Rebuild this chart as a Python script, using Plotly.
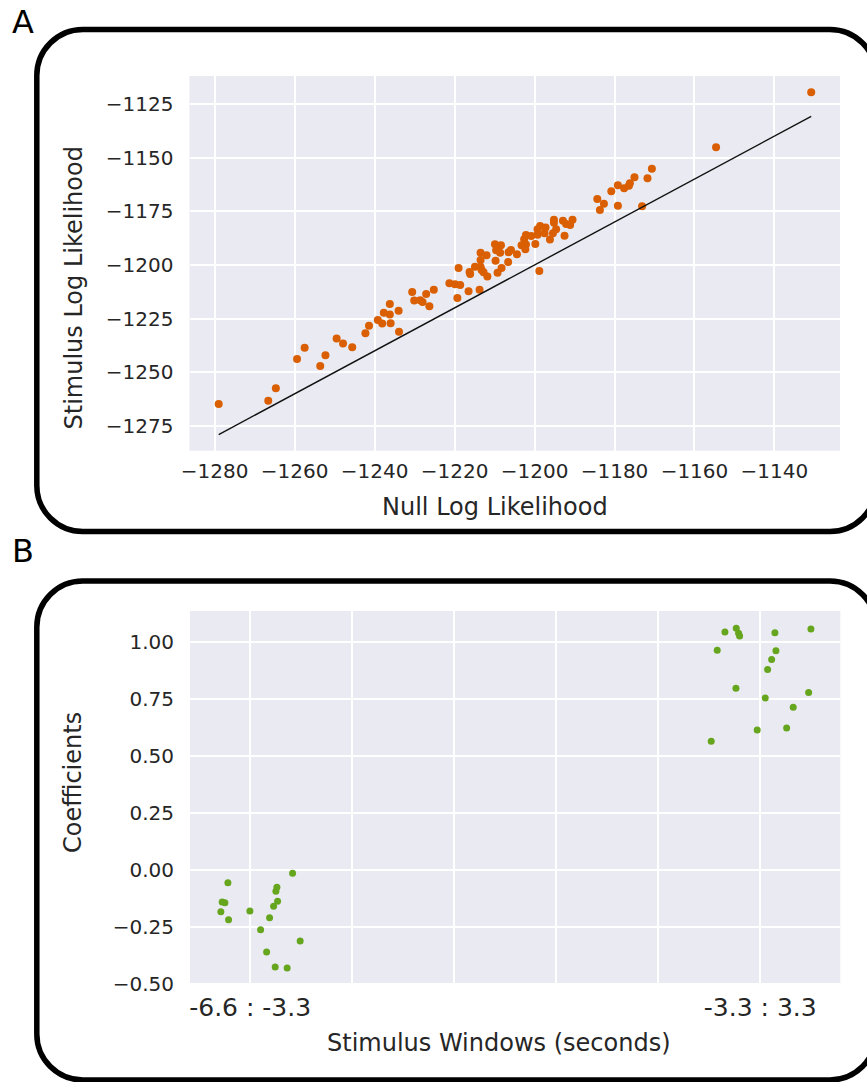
import plotly.graph_objects as go

W, H = 867, 1082

# ---------------- Panel A data ----------------
null_ll = [-1279.0, -1266.6, -1264.7, -1259.4, -1257.5, -1253.6, -1252.3, -1249.5, -1247.9, -1245.6,
           -1242.3, -1241.4, -1239.2, -1238.1, -1237.7, -1236.2, -1236.2, -1236.0, -1234.0, -1233.9,
           -1230.6, -1230.1, -1228.6, -1228.0, -1227.1, -1225.2, -1226.3, -1221.3, -1219.9, -1218.6,
           -1219.3, -1216.5, -1213.75, -1219.0, -1216.25, -1216.1, -1214.9, -1213.5, -1213.25, -1212.75,
           -1211.8, -1213.5, -1213.5, -1212.0, -1209.9, -1208.4, -1209.6, -1208.6, -1209.75, -1208.25,
           -1209.25, -1206.6, -1206.5, -1205.9, -1204.4, -1203.25, -1202.15, -1202.3, -1202.6, -1202.15,
           -1200.8, -1199.8, -1199.25, -1199.25, -1198.6, -1197.5, -1197.25, -1196.15, -1195.4, -1195.15,
           -1195.15, -1194.6, -1192.9, -1192.5, -1192.1, -1191.1, -1190.5, -1198.8, -1184.3, -1183.65,
           -1182.65, -1180.8, -1179.15, -1179.15, -1177.6, -1176.4, -1176.15, -1175.0, -1173.1, -1171.75,
           -1170.65, -1154.6, -1130.8]
stim_ll = [-1264.7, -1263.2, -1257.4, -1243.8, -1238.6, -1247.0, -1242.0, -1234.3, -1236.6, -1238.3,
           -1231.8, -1228.3, -1225.6, -1227.3, -1222.3, -1223.1, -1218.2, -1227.1, -1221.3, -1231.1,
           -1212.6, -1216.6, -1216.4, -1217.2, -1213.5, -1211.5, -1219.2, -1208.5, -1209.0, -1209.3,
           -1215.4, -1212.2, -1211.5, -1201.4, -1203.3, -1204.2, -1200.8, -1200.8, -1202.3, -1203.4,
           -1205.4, -1197.7, -1194.3, -1195.5, -1190.4, -1190.8, -1193.2, -1194.3, -1198.0, -1201.4,
           -1203.6, -1198.6, -1194.1, -1193.0, -1195.0, -1190.8, -1190.5, -1192.7, -1188.0, -1186.0,
           -1186.5, -1190.2, -1183.4, -1185.9, -1181.8, -1185.2, -1182.6, -1188.2, -1185.2, -1178.9,
           -1180.4, -1183.4, -1179.4, -1186.4, -1180.9, -1181.4, -1178.9, -1202.8, -1169.3, -1174.4,
           -1171.5, -1165.7, -1162.9, -1172.4, -1164.3, -1163.1, -1162.0, -1159.2, -1172.7, -1159.6,
           -1155.2, -1145.2, -1119.6]

# ---------------- Panel B data ----------------
window_labels = ["-6.6 : -3.3", "-3.3 : 3.3"]
win1_jitter = [-0.0437, 0.0831, -0.0549, -0.0496, -0.0575, -0.0424, -0.0006, 0.0524, 0.0504,
               0.0537, 0.0459, 0.038, 0.0204, 0.098, 0.0322, 0.049, 0.0725]
win1_coef = [-0.056, -0.0145, -0.1405, -0.1436, -0.183, -0.218, -0.180, -0.076, -0.0935,
             -0.1375, -0.159, -0.2095, -0.262, -0.312, -0.360, -0.426, -0.430]
win2_jitter = [-0.0692, -0.047, -0.0424, -0.0404, 0.0288, 0.0994, -0.0843, 0.0308, 0.0224,
               0.0145, -0.0476, 0.0949, 0.0098, 0.0647, -0.0059, 0.0518, -0.0961]
win2_coef = [1.045, 1.0615, 1.0395, 1.0277, 1.042, 1.058, 0.965, 0.963, 0.925,
             0.881, 0.798, 0.780, 0.755, 0.7145, 0.615, 0.6236, 0.565]

ORANGE = "#d95f02"
GREEN = "#66a61e"
BG = "#eaeaf2"
TXT = "#262626"
FONT = "DejaVu Sans"

fig = go.Figure()

fig.add_trace(go.Scatter(x=null_ll, y=stim_ll, mode="markers",
                         marker=dict(color=ORANGE, size=8, line=dict(width=0)),
                         xaxis="x", yaxis="y", showlegend=False))
lo, hi = min(null_ll), max(null_ll)
fig.add_trace(go.Scatter(x=[lo, hi], y=[lo, hi], mode="lines",
                         line=dict(color="#111111", width=1.4),
                         xaxis="x", yaxis="y", showlegend=False))

fig.add_trace(go.Scatter(x=[0 + j for j in win1_jitter], y=win1_coef, mode="markers",
                         marker=dict(color=GREEN, size=7, line=dict(width=0)),
                         xaxis="x2", yaxis="y2", showlegend=False))
fig.add_trace(go.Scatter(x=[1 + j for j in win2_jitter], y=win2_coef, mode="markers",
                         marker=dict(color=GREEN, size=7, line=dict(width=0)),
                         xaxis="x2", yaxis="y2", showlegend=False))


def px_x(p):
    return p / W


def px_y(p):
    return 1 - p / H


common = dict(showgrid=True, gridcolor="white", gridwidth=1.5, zeroline=False,
              showline=False, ticks="outside", tickcolor="rgba(0,0,0,0)", automargin=False,
              tickfont=dict(family=FONT, size=20, color=TXT))

fig.update_layout(
    width=W, height=H, autosize=False, showlegend=False,
    margin=dict(l=0, r=0, t=0, b=0, pad=0, autoexpand=False),
    paper_bgcolor="white", plot_bgcolor=BG,
    font=dict(family=FONT, color=TXT),
    xaxis=dict(domain=[px_x(189.5), px_x(840)], range=[-1286.3, -1123.6],
               tick0=-1280, dtick=20, ticklen=2, anchor="y", **common),
    yaxis=dict(domain=[px_y(450.7), px_y(76)], range=[-1286.5, -1112.0],
               tick0=-1275, dtick=25, ticklen=11, anchor="x", **common),
    xaxis2=dict(domain=[px_x(190), px_x(840.3)], range=[-0.118, 1.157],
                tickvals=[0, 0.2, 0.4, 0.6, 0.8, 1.0],
                ticktext=[window_labels[0], "", "", "", "", window_labels[1]],
                ticklen=0, anchor="y2",
                **{k: v for k, v in common.items() if k != "tickfont"},
                tickfont=dict(family=FONT, size=25, color=TXT)),
    yaxis2=dict(domain=[px_y(985), px_y(611)], range=[-0.505, 1.1375],
                tickvals=[-0.5, -0.25, 0, 0.25, 0.5, 0.75, 1.0], tickformat=".2f",
                ticklen=11, anchor="x2", **common),
)


def rrect(x0, y0, x1, y1, r):
    k = 0.5523 * r
    pts = [
        ("M", [(x0 + r, y0)]),
        ("L", [(x1 - r, y0)]),
        ("C", [(x1 - r + k, y0), (x1, y0 + r - k), (x1, y0 + r)]),
        ("L", [(x1, y1 - r)]),
        ("C", [(x1, y1 - r + k), (x1 - r + k, y1), (x1 - r, y1)]),
        ("L", [(x0 + r, y1)]),
        ("C", [(x0 + r - k, y1), (x0, y1 - r + k), (x0, y1 - r)]),
        ("L", [(x0, y0 + r)]),
        ("C", [(x0, y0 + r - k), (x0 + r - k, y0), (x0 + r, y0)]),
    ]
    s = ""
    for cmd, ps in pts:
        s += cmd + " ".join(f"{px_x(a):.5f},{px_y(b):.5f}" for a, b in ps) + " "
    return s + "Z"


for (y0, y1) in [(29.5, 531.5), (581.0, 1080.0)]:
    fig.add_shape(type="path", path=rrect(36.8, y0, 876.0, y1, 46),
                  xref="paper", yref="paper", line=dict(color="black", width=5.5),
                  fillcolor="rgba(0,0,0,0)", layer="above")

annots = [
    dict(text="A", x=px_x(22.5), y=px_y(22), size=32, color="black", angle=0),
    dict(text="B", x=px_x(22.5), y=px_y(551), size=32, color="black", angle=0),
    dict(text="Null Log Likelihood", x=px_x(494.5), y=px_y(507), size=24, color=TXT, angle=0),
    dict(text="Stimulus Log Likelihood", x=px_x(73), y=px_y(288.5), size=24, color=TXT, angle=-90),
    dict(text="Stimulus Windows (seconds)", x=px_x(498.5), y=px_y(1043), size=24, color=TXT, angle=0),
    dict(text="Coefficients", x=px_x(73), y=px_y(783), size=24, color=TXT, angle=-90),
]
for a in annots:
    fig.add_annotation(text=a["text"], x=a["x"], y=a["y"], xref="paper", yref="paper",
                       xanchor="center", yanchor="middle", showarrow=False, textangle=a["angle"],
                       font=dict(family=FONT, size=a["size"], color=a["color"]))

fig.write_html("out.html",
               post_script="document.body.style.margin='0';document.body.style.overflow='hidden';")
